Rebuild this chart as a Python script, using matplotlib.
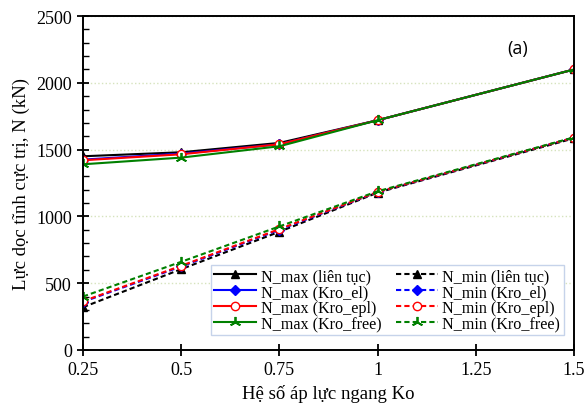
import matplotlib.pyplot as plt
from matplotlib.ticker import MultipleLocator

ko = [0.25, 0.5, 0.75, 1.0, 1.5]

# N_max per model (kN)
nmax_lien_tuc = [1450, 1480, 1550, 1720, 2100]
nmax_kro_el = [1425, 1470, 1540, 1720, 2100]
nmax_kro_epl = [1420, 1465, 1540, 1720, 2100]
nmax_kro_free = [1390, 1440, 1525, 1720, 2100]

# N_min per model (kN)
nmin_lien_tuc = [320, 605, 885, 1178, 1585]
nmin_kro_el = [360, 625, 900, 1182, 1590]
nmin_kro_epl = [365, 630, 905, 1183, 1590]
nmin_kro_free = [400, 660, 925, 1188, 1592]

series = [
    ("liên tục", "black", dict(marker="^", mfc="black"), nmax_lien_tuc, nmin_lien_tuc),
    ("Kro_el", "blue", dict(marker="D", mfc="blue", ms=5), nmax_kro_el, nmin_kro_el),
    ("Kro_epl", "red", dict(marker="o", mfc="white"), nmax_kro_epl, nmin_kro_epl),
    ("Kro_free", "green", dict(marker=(3, 2, 0), mfc="green", mew=1.3, ms=8), nmax_kro_free, nmin_kro_free),
]

plt.rcParams["font.family"] = ["Liberation Serif", "DejaVu Serif"]

fig = plt.figure(figsize=(5.87, 4.10), dpi=100)
ax = fig.add_axes([0.1414, 0.144, 0.8366, 0.8145])

handles_max, handles_min = [], []
for name, color, mk, nmax, nmin in series:
    style = dict(color=color, lw=1.5, ms=6, mec=color)
    style.update(mk)
    h1, = ax.plot(ko, nmax, linestyle="-", label=f"N_max ({name})", **style)
    h2, = ax.plot(ko, nmin, linestyle=(0, (2.5, 1.5)), label=f"N_min ({name})", **style)
    handles_max.append(h1)
    handles_min.append(h2)

ax.set_xlim(0.25, 1.5)
ax.set_ylim(0, 2500)
ax.set_xticks([0.25, 0.5, 0.75, 1.0, 1.25, 1.5])
ax.set_xticklabels(["0.25", "0.5", "0.75", "1", "1.25", "1.5"])
ax.yaxis.set_major_locator(MultipleLocator(500))
ax.yaxis.set_minor_locator(MultipleLocator(100))
ax.tick_params(axis="both", which="major", direction="inout", length=8, width=1.3,
               labelsize=13, pad=4)
ax.tick_params(axis="y", which="minor", direction="in", length=4, width=1.0)
for sp in ax.spines.values():
    sp.set_linewidth(1.4)

ax.grid(axis="y", which="major", linestyle=":", color="#d6e3bd", lw=1.0)
ax.set_axisbelow(True)

ax.set_xlabel("Hệ số áp lực ngang Ko", fontsize=13.5, labelpad=4)
ax.set_ylabel("Lực dọc tĩnh cực trị, N (kN)", fontsize=13.5, labelpad=4)

ax.text(0.885, 0.905, "(a)", transform=ax.transAxes, fontsize=13,
        family=["Open Sans", "DejaVu Sans"], ha="center", va="center")

leg = ax.legend(handles_max + handles_min,
                [h.get_label() for h in handles_max + handles_min],
                ncol=2, loc="lower right", bbox_to_anchor=(0.995, 0.02),
                fontsize=11.6, handlelength=2.6, handletextpad=0.3,
                columnspacing=0.9, labelspacing=0.0, borderpad=0.2,
                fancybox=False, framealpha=1, edgecolor="#c6d3ea")
leg.get_frame().set_linewidth(1.0)

fig.savefig("out.png", dpi=100)
